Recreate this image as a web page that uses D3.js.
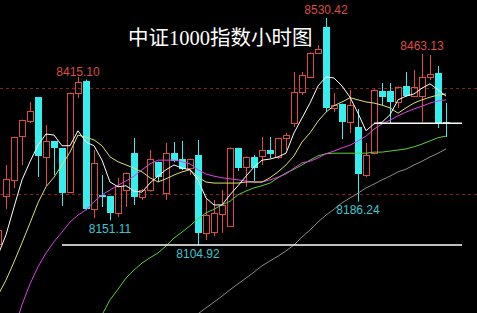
<!DOCTYPE html>
<html>
<head>
<meta charset="utf-8">
<script src="https://cdn.jsdelivr.net/npm/d3@7"></script>
<style>
  html, body { margin: 0; padding: 0; background: #000; }
  svg { display: block; }
</style>
</head>
<body>
<div id="chart"></div>
<script>
// hourly candles (index 0 is the cut-off one at the left edge)
var opens = [8106, 8196.8, 8226.8, 8309.3, 8337.4, 8382.4, 8269.9, 8299.9, 8286.8, 8204.4,
  8389.9, 8412.3, 8172.4, 8198.7, 8196.8, 8165.0, 8208.0, 8277.4, 8195.0, 8208.0,
  8260.5, 8202.5, 8277.4, 8266.2, 8249.3, 8273.6, 8127.5, 8129.4, 8163.1, 8140.6,
  8286.8, 8251.2, 8269.9, 8271.8, 8283.0, 8269.9, 8305.5, 8333.6, 8391.7, 8419.8,
  8464.8, 8513.6, 8361.8, 8369.3, 8335.5, 8326.1, 8236.2, 8277.4, 8393.6, 8393.6,
  8373.0, 8403.0, 8384.2, 8384.2, 8419.8, 8427.3, 8335.5];
var highs = [8133, 8254.9, 8308, 8340, 8373.0, 8382.4, 8329.9, 8300, 8287, 8391,
  8419.8, 8415.10, 8283.0, 8236.2, 8197, 8230.6, 8241, 8305.5, 8210, 8283.0,
  8261, 8296.2, 8298.0, 8299.9, 8267, 8301.7, 8193.1, 8189.3, 8208.0, 8288,
  8287, 8271, 8273.6, 8307.4, 8307.4, 8306, 8314.9, 8429.2, 8429.2, 8466,
  8479.8, 8530.42, 8389.9, 8370, 8395.5, 8359.9, 8296.2, 8397, 8408.6, 8408.6,
  8402, 8429.2, 8432.9, 8463.13, 8461.1, 8440.4, 8371.1];
var lows = [8106, 8172.4, 8211.8, 8254.9, 8333.6, 8232.4, 8215.6, 8236.2, 8178.1, 8204,
  8380.5, 8170, 8155.6, 8176.2, 8151.11, 8157.5, 8176.2, 8180.0, 8189.3, 8205,
  8223.1, 8189.3, 8260, 8245.5, 8236.2, 8104.92, 8114.3, 8121.8, 8127.5, 8139,
  8243.7, 8213.7, 8224.9, 8254.9, 8268.0, 8266.2, 8283.0, 8326.1, 8386.1, 8418,
  8463, 8354.2, 8354, 8303.6, 8314.9, 8186.24, 8232.4, 8275, 8367.4, 8333.6,
  8361.8, 8383, 8383, 8335.5, 8414.2, 8324.2, 8307.4];
var closes = [8133, 8228.7, 8307.4, 8339.2, 8356.1, 8271.8, 8299.9, 8286.8, 8202.5, 8389.9,
  8410.5, 8172.4, 8258.6, 8195.0, 8165.0, 8215.6, 8239.9, 8195.0, 8208.0, 8266.2,
  8232.4, 8277.4, 8262.4, 8247.4, 8266.2, 8127.5, 8161.2, 8165.0, 8179.9, 8286.8,
  8249.3, 8269.9, 8249.3, 8283.0, 8275.5, 8305.5, 8311.1, 8391.7, 8423.6, 8464.8,
  8472.3, 8361.8, 8367.4, 8335.5, 8367.4, 8238.1, 8273.6, 8395.5, 8382.4, 8373.0,
  8401.1, 8384.2, 8401.1, 8419.8, 8425.5, 8333.6, 8333.6];

// moving averages (null = not on screen)
var ma5 = [8086, 8124, 8176, 8227, 8261, 8292, 8313, 8311, 8291, 8291,
  8319, 8298, 8291, 8264, 8223, 8214, 8216, 8206, 8204, 8221,
  8234, 8246, 8255, 8249, 8246, 8227, 8193, 8180, 8180, 8199,
  8216, 8234, 8251, 8264, 8266, 8270, 8277, 8315, 8343, 8371,
  8403, 8420, 8418, 8403, 8382, 8352, 8319, 8332, 8335, 8349,
  8377, 8384, 8388, 8399, 8407, 8396, 8384];
var ma10 = [8011, 8039, 8073, 8109, 8146, 8184, 8214, 8232, 8255, 8279,
  8311, 8307, 8302, 8291, 8270, 8261, 8255, 8249, 8242, 8231,
  8223, 8229, 8236, 8242, 8246, 8232, 8223, 8221, 8221, 8221,
  8221, 8223, 8223, 8223, 8231, 8242, 8255, 8272, 8298, 8315,
  8337, 8354, 8366, 8373, 8381, 8377, 8373, 8371, 8367, 8362,
  8352, 8362, 8371, 8377, 8382, 8386, 8388];
var ma20 = [null, null, 7946, 7993, 8032, 8064, 8090, 8111, 8129, 8148,
  8161, 8171, 8186, 8199, 8208, 8217, 8225, 8234, 8246, 8257,
  8264, 8264, 8264, 8261, 8257, 8246, 8238, 8234, 8231, 8229,
  8227, 8225, 8223, 8223, 8227, 8232, 8238, 8249, 8259, 8262,
  8268, 8276, 8281, 8287, 8292, 8300, 8309, 8322, 8332, 8339,
  8347, 8354, 8360, 8365, 8371, 8375, 8377];
var ma60 = [null, null, null, null, null, null, null, null, null, null,
  null, null, 7946, 7974, 8002, 8022, 8043, 8058, 8071, 8081,
  8090, 8103, 8118, 8129, 8141, 8154, 8165, 8172, 8180, 8187,
  8199, 8206, 8212, 8216, 8221, 8231, 8240, 8247, 8255, 8264,
  8272, 8276, 8277, 8277, 8277, 8277, 8277, 8279, 8279, 8281,
  8283, 8285, 8289, 8294, 8300, 8306, 8309];
var ma120 = [null, null, null, null, null, null, null, null, null, null,
  null, null, null, null, null, null, null, null, null, null,
  null, null, null, null, 7964, 7976, 7987, 7998, 8009, 8021,
  8032, 8043, 8054, 8066, 8075, 8084, 8094, 8105, 8120, 8133,
  8148, 8161, 8172, 8184, 8193, 8202, 8212, 8219, 8227, 8234,
  8242, 8247, 8255, 8262, 8270, 8277, 8285];

var dashedLevels = [8400, 8200];
var whiteLevels = [
  { price: 8104.92, from: 8, to: 58 },
  { price: 8333, from: 47, to: 58 }
];
var highMarks = [
  { i: 11, text: "8415.10", dx: -8 },
  { i: 41, text: "8530.42", dx: 0 },
  { i: 53, text: "8463.13", dx: 0 }
];
var lowMarks = [
  { i: 14, text: "8151.11" },
  { i: 25, text: "8104.92" },
  { i: 45, text: "8186.24" }
];
var title = "中证1000指数小时图";

var width = 477,
  height = 313;
var red = "#dc4c40",
  cyan = "#36eeee";

var svg = d3
  .select("#chart")
  .append("svg")
  .attr("width", width)
  .attr("height", height)
  .style("background", "#000");

var x = d3.scaleLinear().domain([0, 56]).range([-2, 446]);
var y = d3.scaleLinear().domain([8104.92, 8530.42]).range([245, 18]);

// dashed reference levels
svg
  .selectAll(".dash")
  .data(dashedLevels)
  .enter()
  .append("line")
  .attr("x1", 0)
  .attr("x2", width)
  .attr("y1", (d) => Math.round(y(d)) + 0.5)
  .attr("y2", (d) => Math.round(y(d)) + 0.5)
  .attr("stroke", "#86231f")
  .attr("stroke-dasharray", "3,3");

// candles
var idx = d3.range(opens.length);
var g = svg.append("g");
idx.forEach(function (i) {
  var cx = Math.round(x(i)) + 0.5;
  var o = opens[i],
    c = closes[i];
  var top = Math.round(y(Math.max(o, c))),
    bot = Math.round(y(Math.min(o, c)));
  if (c >= o) {
    g.append("line")
      .attr("x1", cx).attr("x2", cx)
      .attr("y1", y(highs[i])).attr("y2", top)
      .attr("stroke", red);
    g.append("line")
      .attr("x1", cx).attr("x2", cx)
      .attr("y1", bot).attr("y2", y(lows[i]))
      .attr("stroke", red);
    g.append("rect")
      .attr("x", cx - 3)
      .attr("y", top + 0.5)
      .attr("width", 6)
      .attr("height", Math.max(bot - top, 0))
      .attr("fill", "none")
      .attr("stroke", red);
  } else {
    g.append("line")
      .attr("x1", cx).attr("x2", cx)
      .attr("y1", y(highs[i])).attr("y2", y(lows[i]))
      .attr("stroke", cyan);
    g.append("rect")
      .attr("x", cx - 3.5)
      .attr("y", top)
      .attr("width", 7)
      .attr("height", Math.max(bot - top, 1))
      .attr("fill", cyan);
  }
});

// moving average lines
var maLine = d3
  .line()
  .defined((d) => d != null)
  .x((d, i) => x(i))
  .y((d) => y(d));
var mas = [
  [ma120, "#8c8c8c"],
  [ma60, "#5ccf3c"],
  [ma20, "#e040e6"],
  [ma10, "#dede78"],
  [ma5, "#ffffff"]
];
mas.forEach(function (m) {
  svg
    .append("path")
    .datum(m[0])
    .attr("d", maLine)
    .attr("fill", "none")
    .attr("stroke", m[1])
    .attr("stroke-width", 1);
});

// white horizontal lines
svg
  .selectAll(".wl")
  .data(whiteLevels)
  .enter()
  .append("line")
  .attr("x1", (d) => x(d.from))
  .attr("x2", (d) => x(d.to))
  .attr("y1", (d) => y(d.price))
  .attr("y2", (d) => y(d.price))
  .attr("stroke", "#fff")
  .attr("stroke-width", 1.5);

// high / low marks
svg
  .selectAll(".hm")
  .data(highMarks)
  .enter()
  .append("text")
  .attr("x", (d) => x(d.i) + d.dx)
  .attr("y", (d) => y(highs[d.i]) - 4)
  .attr("text-anchor", "middle")
  .attr("font-family", "Liberation Sans, Arial, sans-serif")
  .attr("font-size", 12)
  .attr("fill", red)
  .text((d) => d.text);
svg
  .selectAll(".lm")
  .data(lowMarks)
  .enter()
  .append("text")
  .attr("x", (d) => x(d.i))
  .attr("y", (d) => y(lows[d.i]) + 12.5)
  .attr("text-anchor", "middle")
  .attr("font-family", "Liberation Sans, Arial, sans-serif")
  .attr("font-size", 12)
  .attr("fill", "#3ec6d2")
  .text((d) => d.text);

// title
svg
  .append("text")
  .attr("x", 128)
  .attr("y", 45)
  .attr("font-family", "Liberation Serif, Noto Sans CJK SC, serif")
  .attr("font-size", 20.5)
  .attr("fill", "#fff")
  .text(title);
</script>
</body>
</html>
